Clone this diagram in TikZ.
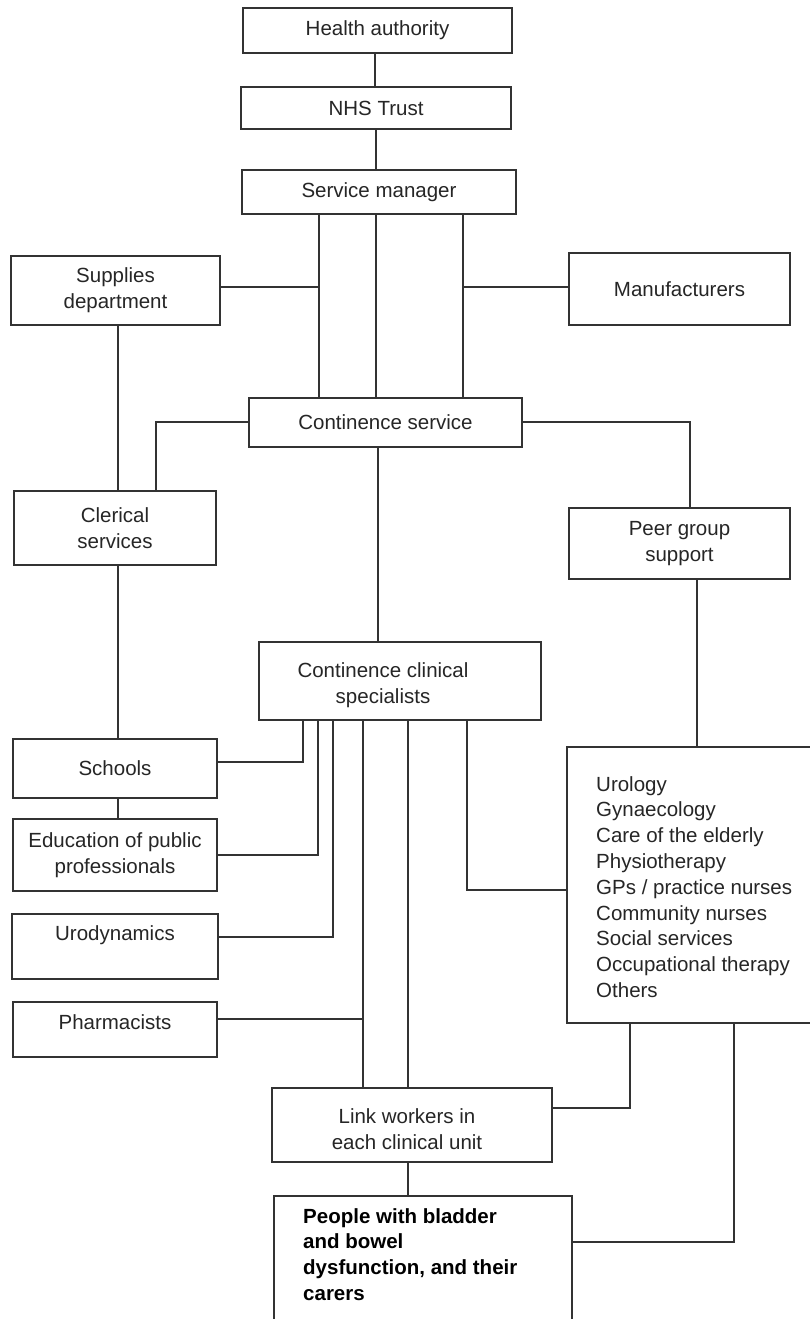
\documentclass[tikz,border=0pt]{standalone}
\usepackage{fontspec}
\setmainfont{Liberation Sans}
\begin{document}
\begin{tikzpicture}[x=1pt,y=-1pt,
  ink/.style={draw=black!80},
  box/.style={ink, line width=1.5pt, rectangle, inner sep=0pt, anchor=center},
  wire/.style={ink, line width=1.2pt},
  lbl/.style={inner sep=0pt, align=center, font=\fontsize{20.5}{25.8}\selectfont, text=black!85},
  lbll/.style={lbl, align=left, anchor=north west}]
\clip (0,0) rectangle (810,1319);
\fill[white] (0,0) rectangle (810,1319);

% boxes with centred text
\node[box, minimum width=269pt, minimum height=45pt, lbl] (ha)   at (377.5,30.5) {Health authority};
\node[box, minimum width=270pt, minimum height=42pt, lbl] (nhs)  at (376,108)    {NHS Trust};
\node[box, minimum width=274pt, minimum height=44pt, lbl] (sm)   at (379,192)    {Service manager};
\node[box, minimum width=209pt, minimum height=69pt, lbl] (sup)  at (115.5,290.5) {Supplies\\department};
\node[box, minimum width=221pt, minimum height=72pt, lbl] (man)  at (679.5,289)  {Manufacturers};
\node[box, minimum width=273pt, minimum height=49pt, lbl] (cs)   at (385.5,422.5) {Continence service};
\node[box, minimum width=202pt, minimum height=74pt, lbl] (cler) at (115,528)    {Clerical\\services};
\node[box, minimum width=221pt, minimum height=71pt, lbl] (peer) at (679.5,543.5) {Peer group\\support};
\node[box, minimum width=204pt, minimum height=59pt, lbl] (sch)  at (115,768.5)  {Schools};
\node[box, minimum width=204pt, minimum height=72pt, lbl] (edu)  at (115,855)    {Education of public\\professionals};
\node[box, minimum width=280pt, minimum height=74pt] (link) at (412,1125) {};
\node[lbl] (linkt) at (407,1129) {Link workers in\\each clinical unit};

% boxes whose text sits off centre
\node[box, minimum width=282pt, minimum height=78pt] (ccs) at (400,681) {};
\node[lbl] (ccst) at (383,685) {Continence clinical\\specialists};
\node[box, minimum width=206pt, minimum height=65pt] (uro) at (115,946.5) {};
\node[lbl] (urot) at (115,935) {Urodynamics};
\node[box, minimum width=204pt, minimum height=55pt] (pha) at (115,1029.5) {};
\node[lbl] (phat) at (115,1022) {Pharmacists};
\node[box, minimum width=260pt, minimum height=276pt] (list) at (697,885) {};
\node[lbll] (listt) at (596,776) {Urology\\Gynaecology\\Care of the elderly\\Physiotherapy\\GPs / practice nurses\\Community nurses\\Social services\\Occupational therapy\\Others};
\node[box, minimum width=298pt, minimum height=140pt] (ppl) at (423,1266) {};
\node[lbll, font=\fontsize{20.5}{25.7}\selectfont\bfseries, text=black] (pplt) at (303,1208) {People with bladder\\and bowel\\dysfunction, and their\\carers};

% chain at the top
\draw[wire] (ha.south -| 375,0) -- (nhs.north -| 375,0);
\draw[wire] (nhs.south -| 376,0) -- (sm.north -| 376,0);

% three links from the service manager to the continence service
\draw[wire] (sm.south -| 319,0) -- (cs.north -| 319,0);
\draw[wire] (sm.south -| 376,0) -- (cs.north -| 376,0);
\draw[wire] (sm.south -| 463,0) -- (cs.north -| 463,0);
\coordinate (mjoin) at (319,287);
\coordinate (njoin) at (463,287);
\draw[wire] (sup.east |- mjoin) -- (mjoin);
\draw[wire] (njoin) -- (man.west |- njoin);

% left column
\draw[wire] (sup.south -| 118,0) -- (cler.north -| 118,0);
\draw[wire] (cs.west |- 0,422) -| (cler.north -| 156,0);
\draw[wire] (cler.south -| 118,0) -- (sch.north -| 118,0);
\draw[wire] (sch.south -| 118,0) -- (edu.north -| 118,0);

% right column
\draw[wire] (cs.east |- 0,422) -| (peer.north -| 690,0);
\draw[wire] (peer.south -| 697,0) -- (list.north -| 697,0);

% continence service to specialists
\draw[wire] (cs.south -| 378,0) -- (ccs.north -| 378,0);

% specialists fan out
\draw[wire] (ccs.south -| 303,0) |- (sch.east |- 0,762);
\draw[wire] (ccs.south -| 318,0) |- (edu.east |- 0,855);
\draw[wire] (ccs.south -| 333,0) |- (uro.east |- 0,937);
\draw[wire] (ccs.south -| 363,0) -- (link.north -| 363,0);
\draw[wire] (ccs.south -| 408,0) -- (link.north -| 408,0);
\draw[wire] (ccs.south -| 467,0) |- (list.west |- 0,890);
\coordinate (pjoin) at (363,1019);
\draw[wire] (pha.east |- pjoin) -- (pjoin);

% bottom links
\draw[wire] (list.south -| 630,0) |- (link.east |- 0,1108);
\draw[wire] (list.south -| 734,0) |- (ppl.east |- 0,1242);
\draw[wire] (link.south -| 408,0) -- (ppl.north -| 408,0);
\end{tikzpicture}
\end{document}
